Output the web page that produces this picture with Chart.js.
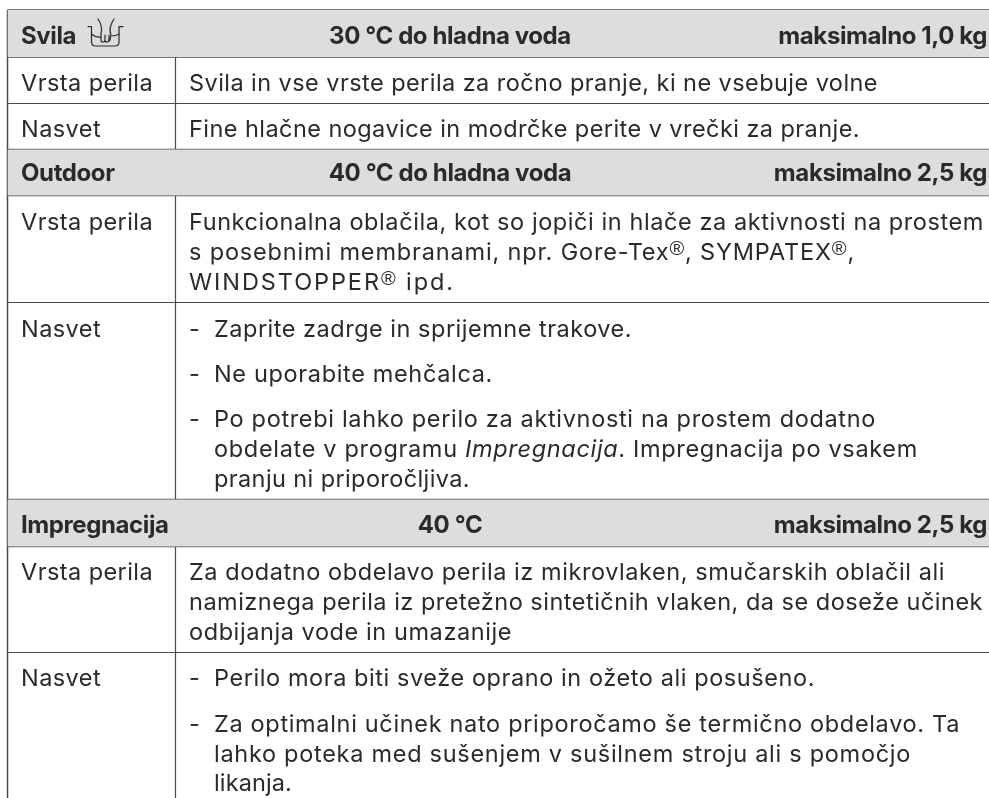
<!DOCTYPE html>
<html>
<head>
<meta charset="utf-8">
<title>Svila, Outdoor, Impregnacija</title>
<script src="https://cdn.jsdelivr.net/npm/chart.js@4/dist/chart.umd.min.js"></script>
<style>
html, body { margin: 0; padding: 0; background: #fff; }
#box { position: relative; width: 989px; height: 798px; }
</style>
</head>
<body>
<div id="box"><canvas id="tableChart"></canvas></div>
<script>
// Besedilo tabele
const programNames = ['Svila', 'Outdoor', 'Impregnacija'];
const programTemps = ['30 °C do hladna voda', '40 °C do hladna voda', '40 °C'];
const programLoads = ['maksimalno 1,0 kg', 'maksimalno 2,5 kg', 'maksimalno 2,5 kg'];
const rowLabels = ['Vrsta perila', 'Nasvet', 'Vrsta perila', 'Nasvet', 'Vrsta perila', 'Nasvet'];
const rowTexts = [
    ['Svila in vse vrste perila za ročno pranje, ki ne vsebuje volne'],
    ['Fine hlačne nogavice in modrčke perite v vrečki za pranje.'],
    ['Funkcionalna oblačila, kot so jopiči in hlače za aktivnosti na prostem',
     's posebnimi membranami, npr. Gore-Tex®, SYMPATEX®,',
     'WINDSTOPPER® ipd.'],
    ['-|Zaprite zadrge in sprijemne trakove.',
     '-|Ne uporabite mehčalca.',
     '-|Po potrebi lahko perilo za aktivnosti na prostem dodatno',
     '|obdelate v programu _Impregnacija_. Impregnacija po vsakem',
     '|pranju ni priporočljiva.'],
    ['Za dodatno obdelavo perila iz mikrovlaken, smučarskih oblačil ali',
     'namiznega perila iz pretežno sintetičnih vlaken, da se doseže učinek',
     'odbijanja vode in umazanije'],
    ['-|Perilo mora biti sveže oprano in ožeto ali posušeno.',
     '-|Za optimalni učinek nato priporočamo še termično obdelavo. Ta',
     '|lahko poteka med sušenjem v sušilnem stroju ali s pomočjo',
     '|likanja.']
];

// Robovi vrstic in stolpcev na osi
const headerTops = [10, 149.5, 499.5];
const headerBottoms = [57, 195.5, 546.5];
const rowBottoms = [103.5, 302.5, 652.5];
const colEdges = [7.5, 175.5, 989];
const pageEnd = 798;

// Osnovne črte besedila
const headerBaselines = [44, 181, 533];
const labelBaselines = [91, 137, 230, 337, 580, 686];
const textBaselines = [
    [91], [137], [230, 260, 290], [337, 382, 427, 457, 487],
    [580, 610, 640], [686, 732, 762, 791]
];
// kje se posamezna vrstica konča
const textEnds = [
    [878], [860], [984, 855, 455], [632, 493, 876, 918, 470],
    [945, 983, 512], [815, 960, 911, 292]
];

const FONT = 'Inter, "Noto Sans", sans-serif';
const INK = '#2b2a29';
const RULE = '#4a4a4d';
const BAND = '#dcdddf';
const BODY_SIZE = 23.5;

function ruleLine(points, width) {
    return {
        type: 'line',
        data: points.map(p => ({ x: p[0], y: p[1] })),
        borderColor: RULE,
        borderWidth: width,
        pointRadius: 0,
        fill: false
    };
}

function buildDatasets() {
    const sets = [];
    // sive vrstice z naslovi
    headerTops.forEach((top, i) => {
        sets.push({
            type: 'line',
            data: [{ x: colEdges[0], y: headerBottoms[i] }, { x: colEdges[2], y: headerBottoms[i] }],
            backgroundColor: BAND,
            borderWidth: 0,
            pointRadius: 0,
            fill: { value: top }
        });
    });
    headerTops.forEach(y => sets.push(ruleLine([[colEdges[0], y], [colEdges[2], y]], 1.5)));
    headerBottoms.forEach(y => sets.push(ruleLine([[colEdges[0], y], [colEdges[2], y]], 1.5)));
    rowBottoms.forEach(y => sets.push(ruleLine([[colEdges[0], y], [colEdges[2], y]], 1.2)));
    // navpične črte
    sets.push(ruleLine([[colEdges[0], headerTops[0]], [colEdges[0], pageEnd]], 1.5));
    sets.push(ruleLine([[colEdges[1], headerBottoms[0]], [colEdges[1], headerTops[1]]], 1.2));
    sets.push(ruleLine([[colEdges[1], headerBottoms[1]], [colEdges[1], headerTops[2]]], 1.2));
    sets.push(ruleLine([[colEdges[1], headerBottoms[2]], [colEdges[1], pageEnd]], 1.2));
    return sets;
}

// ročno pranje - ikona ob naslovu
function drawHandWash(ctx, x, y) {
    ctx.save();
    ctx.translate(x, y);
    ctx.strokeStyle = INK;
    ctx.lineWidth = 1.2;
    ctx.lineCap = 'round';
    ctx.lineJoin = 'round';
    ctx.stroke(new Path2D('M0 6.700 H3.500 V22 Q3.500 26 7.500 26 H27 Q31 26 31 22 V6.700 H35'));
    ctx.stroke(new Path2D('M3.500 14 Q8 18 13 17 M24 16 Q28 16 31 14'));
    ctx.stroke(new Path2D('M10 -1 Q15 6 13 14 V20 Q13 22 15 22 Q17 22 17 20 V15 V20 Q17 22 19 22 Q21 22 21 20 V15 V20 Q21 22 22 20 L23 15 Q20 8 26 -1'));
    ctx.restore();
}

// razdeli vrstico na navadne, _poševne_ in ® dele
function splitRuns(text) {
    return text.split(/(_[^_]+_|®)/).filter(Boolean).map(part => {
        if (part === '®') return { text: part, font: '20px "Liberation Sans"', rise: 5 };
        if (part[0] === '_') return { text: part.slice(1, -1), font: 'italic ' + BODY_SIZE + 'px ' + FONT, rise: 0 };
        return { text: part, font: BODY_SIZE + 'px ' + FONT, rise: 0 };
    });
}

function runsWidth(ctx, runs) {
    return runs.reduce((sum, run) => {
        ctx.font = run.font;
        return sum + ctx.measureText(run.text).width;
    }, 0);
}

// vrstico raztegne do njenega konca
function drawFitted(ctx, text, x, y, end) {
    const runs = splitRuns(text);
    ctx.letterSpacing = '0px';
    const spacing = (end - x - runsWidth(ctx, runs)) / text.replace(/_/g, '').length;
    ctx.letterSpacing = spacing.toFixed(3) + 'px';
    runs.forEach(run => {
        ctx.font = run.font;
        ctx.fillText(run.text, x, y - run.rise);
        x += ctx.measureText(run.text).width;
    });
}

const tableText = {
    id: 'tableText',
    afterDatasetsDraw(chart) {
        const ctx = chart.ctx;
        const sx = chart.scales.x;
        const sy = chart.scales.y;
        ctx.save();
        ctx.fillStyle = INK;
        ctx.textBaseline = 'alphabetic';

        programNames.forEach((name, i) => {
            const y = sy.getPixelForValue(headerBaselines[i]);
            ctx.font = '700 24px ' + FONT;
            ctx.letterSpacing = '-0.4px';
            ctx.textAlign = 'left';
            ctx.fillText(name, sx.getPixelForValue(21), y);
            ctx.textAlign = 'center';
            ctx.fillText(programTemps[i], sx.getPixelForValue(450), y);
            ctx.textAlign = 'right';
            ctx.fillText(programLoads[i], sx.getPixelForValue(987), y);
        });
        drawHandWash(ctx, sx.getPixelForValue(88), sy.getPixelForValue(20));

        ctx.textAlign = 'left';
        ctx.letterSpacing = '0.43px';
        rowLabels.forEach((label, i) => {
            ctx.font = BODY_SIZE + 'px ' + FONT;
            ctx.fillText(label, sx.getPixelForValue(21), sy.getPixelForValue(labelBaselines[i]));
        });
        rowTexts.forEach((lines, i) => {
            lines.forEach((line, j) => {
                const y = sy.getPixelForValue(textBaselines[i][j]);
                const end = sx.getPixelForValue(textEnds[i][j]);
                if (line.includes('|')) {
                    const parts = line.split('|');
                    if (parts[0]) {
                        ctx.letterSpacing = '0px';
                        ctx.font = BODY_SIZE + 'px ' + FONT;
                        ctx.fillText(parts[0], sx.getPixelForValue(189), y);
                    }
                    drawFitted(ctx, parts[1], sx.getPixelForValue(214), y, end);
                } else {
                    drawFitted(ctx, line, sx.getPixelForValue(189), y, end);
                }
            });
        });
        ctx.restore();
    }
};

new Chart(document.getElementById('tableChart').getContext('2d'), {
    type: 'line',
    data: { datasets: buildDatasets() },
    options: {
        responsive: true,
        maintainAspectRatio: false,
        animation: false,
        layout: { padding: 0 },
        plugins: { legend: { display: false }, tooltip: { enabled: false } },
        scales: {
            x: { type: 'linear', display: false, min: 0, max: 989 },
            y: { type: 'linear', display: false, min: 0, max: pageEnd, reverse: true }
        }
    },
    plugins: [tableText]
});
</script>
</body>
</html>
